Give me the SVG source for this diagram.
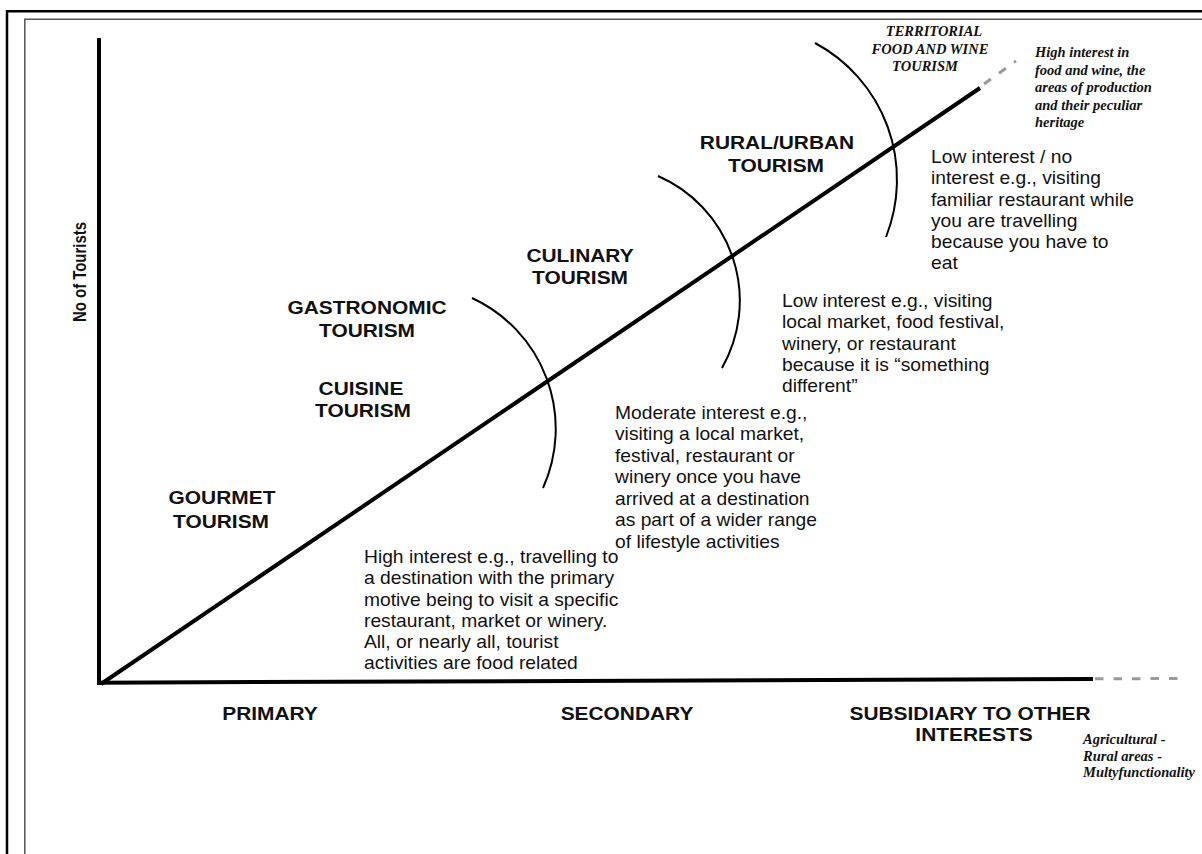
<svg xmlns="http://www.w3.org/2000/svg" width="1202" height="854" viewBox="0 0 1202 854">
  <style>
    .bg { fill: #ffffff; }
    .frame-outer { fill: none; stroke: #000; stroke-width: 2.5; }
    .frame-inner { fill: none; stroke: #555; stroke-width: 1.5; }
    .axis { fill: none; stroke: #000; stroke-width: 4; stroke-linecap: butt; }
    .trend { fill: none; stroke: #000; stroke-width: 4; }
    .ext { fill: none; stroke: #9a9a9a; stroke-width: 3; stroke-dasharray: 8.5 10; }
    .arc { fill: none; stroke: #000; stroke-width: 2; }
    .lbl { font-family: "Liberation Sans", Arial, sans-serif; font-weight: bold; font-size: 19px; fill: #111; text-anchor: middle; }
    .body { font-family: "Liberation Sans", Arial, sans-serif; font-size: 17.5px; fill: #111; }
    .note { font-family: "Liberation Serif", "Times New Roman", serif; font-weight: bold; font-style: italic; font-size: 14.5px; fill: #111; }
    .note-c { text-anchor: middle; }
  </style>

  <rect class="bg" x="0" y="0" width="1202" height="854"/>

  <!-- page frame: heavy outer rule and thin inner rule -->
  <g id="frame">
    <path class="frame-outer" d="M7,860 V11.3 H1210"/>
    <path class="frame-inner" d="M24.8,860 V19.2 H1210"/>
  </g>

  <!-- axes -->
  <g id="axes">
    <line class="axis" x1="99" y1="38" x2="99" y2="685"/>
    <line class="axis" x1="97" y1="682.7" x2="1093" y2="679"/>
    <line class="ext" x1="1095" y1="678.8" x2="1180" y2="678.5"/>
  </g>

  <!-- trend line and the arcs that cut it into bands -->
  <g id="connectors">
    <line class="trend" x1="101" y1="684" x2="980" y2="88"/>
    <line class="ext" x1="984" y1="84" x2="1016" y2="61" stroke-dasharray="9 6"/>
    <path class="arc" d="M472,298 A144,144 0 0,1 543,488"/>
    <path class="arc" d="M658,176 A136,136 0 0,1 722,368"/>
    <path class="arc" d="M815,43 A155,155 0 0,1 886,237"/>
  </g>

  <!-- y axis title -->
  <g id="y-title">
    <text class="lbl" font-size="17.5" textLength="100" lengthAdjust="spacingAndGlyphs" transform="translate(86,272) rotate(-90)">No of Tourists</text>
  </g>

  <!-- band labels -->
  <g id="gourmet">
    <text class="lbl" transform="translate(222,504) scale(1.1,1)">GOURMET</text>
    <text class="lbl" transform="translate(221,528) scale(1.1,1)">TOURISM</text>
  </g>
  <g id="gastronomic">
    <text class="lbl" transform="translate(367,314) scale(1.1,1)">GASTRONOMIC</text>
    <text class="lbl" transform="translate(367,337) scale(1.1,1)">TOURISM</text>
  </g>
  <g id="cuisine">
    <text class="lbl" transform="translate(361,395) scale(1.1,1)">CUISINE</text>
    <text class="lbl" transform="translate(363,417) scale(1.1,1)">TOURISM</text>
  </g>
  <g id="culinary">
    <text class="lbl" transform="translate(580,262) scale(1.1,1)">CULINARY</text>
    <text class="lbl" transform="translate(580,284) scale(1.1,1)">TOURISM</text>
  </g>
  <g id="rural-urban">
    <text class="lbl" transform="translate(777,149) scale(1.1,1)">RURAL/URBAN</text>
    <text class="lbl" transform="translate(776,172) scale(1.1,1)">TOURISM</text>
  </g>
  <g id="territorial">
    <text class="note note-c" x="934" y="36">TERRITORIAL</text>
    <text class="note note-c" x="930" y="53.5">FOOD AND WINE</text>
    <text class="note note-c" x="925" y="71">TOURISM</text>
  </g>

  <!-- interest descriptions -->
  <g id="high-interest">
    <text class="body" transform="translate(364,563) scale(1.1,1)">
      <tspan x="0" y="0">High interest e.g., travelling to</tspan>
      <tspan x="0" y="21.3">a destination with the primary</tspan>
      <tspan x="0" y="42.6">motive being to visit a specific</tspan>
      <tspan x="0" y="63.9">restaurant, market or winery.</tspan>
      <tspan x="0" y="85.2">All, or nearly all, tourist</tspan>
      <tspan x="0" y="106.5">activities are food related</tspan>
    </text>
  </g>
  <g id="moderate-interest">
    <text class="body" transform="translate(615,419) scale(1.1,1)">
      <tspan x="0" y="0">Moderate interest e.g.,</tspan>
      <tspan x="0" y="21.5">visiting a local market,</tspan>
      <tspan x="0" y="43">festival, restaurant or</tspan>
      <tspan x="0" y="64.5">winery once you have</tspan>
      <tspan x="0" y="86">arrived at a destination</tspan>
      <tspan x="0" y="107.5">as part of a wider range</tspan>
      <tspan x="0" y="129">of lifestyle activities</tspan>
    </text>
  </g>
  <g id="low-interest">
    <text class="body" transform="translate(782,307) scale(1.1,1)">
      <tspan x="0" y="0">Low interest e.g., visiting</tspan>
      <tspan x="0" y="21.3">local market, food festival,</tspan>
      <tspan x="0" y="42.6">winery, or restaurant</tspan>
      <tspan x="0" y="63.9">because it is “something</tspan>
      <tspan x="0" y="85.2">different”</tspan>
    </text>
  </g>
  <g id="no-interest">
    <text class="body" transform="translate(931,163) scale(1.1,1)">
      <tspan x="0" y="0">Low interest / no</tspan>
      <tspan x="0" y="21.3">interest e.g., visiting</tspan>
      <tspan x="0" y="42.6">familiar restaurant while</tspan>
      <tspan x="0" y="63.9">you are travelling</tspan>
      <tspan x="0" y="85.2">because you have to</tspan>
      <tspan x="0" y="106.5">eat</tspan>
    </text>
  </g>
  <g id="food-wine-interest">
    <text class="note">
      <tspan x="1035" y="57">High interest in</tspan>
      <tspan x="1035" y="74.5">food and wine, the</tspan>
      <tspan x="1035" y="92">areas of production</tspan>
      <tspan x="1035" y="109.5">and their peculiar</tspan>
      <tspan x="1035" y="127">heritage</tspan>
    </text>
  </g>

  <!-- x axis categories -->
  <g id="primary">
    <text class="lbl" transform="translate(270,720) scale(1.1,1)">PRIMARY</text>
  </g>
  <g id="secondary">
    <text class="lbl" transform="translate(627,720) scale(1.1,1)">SECONDARY</text>
  </g>
  <g id="subsidiary">
    <text class="lbl" transform="translate(970,720) scale(1.1,1)">SUBSIDIARY TO OTHER</text>
    <text class="lbl" transform="translate(974,741) scale(1.1,1)">INTERESTS</text>
  </g>
  <g id="multifunctionality">
    <text class="note">
      <tspan x="1083" y="744">Agricultural -</tspan>
      <tspan x="1083" y="760.5">Rural areas -</tspan>
      <tspan x="1083" y="777">Multyfunctionality</tspan>
    </text>
  </g>
</svg>
